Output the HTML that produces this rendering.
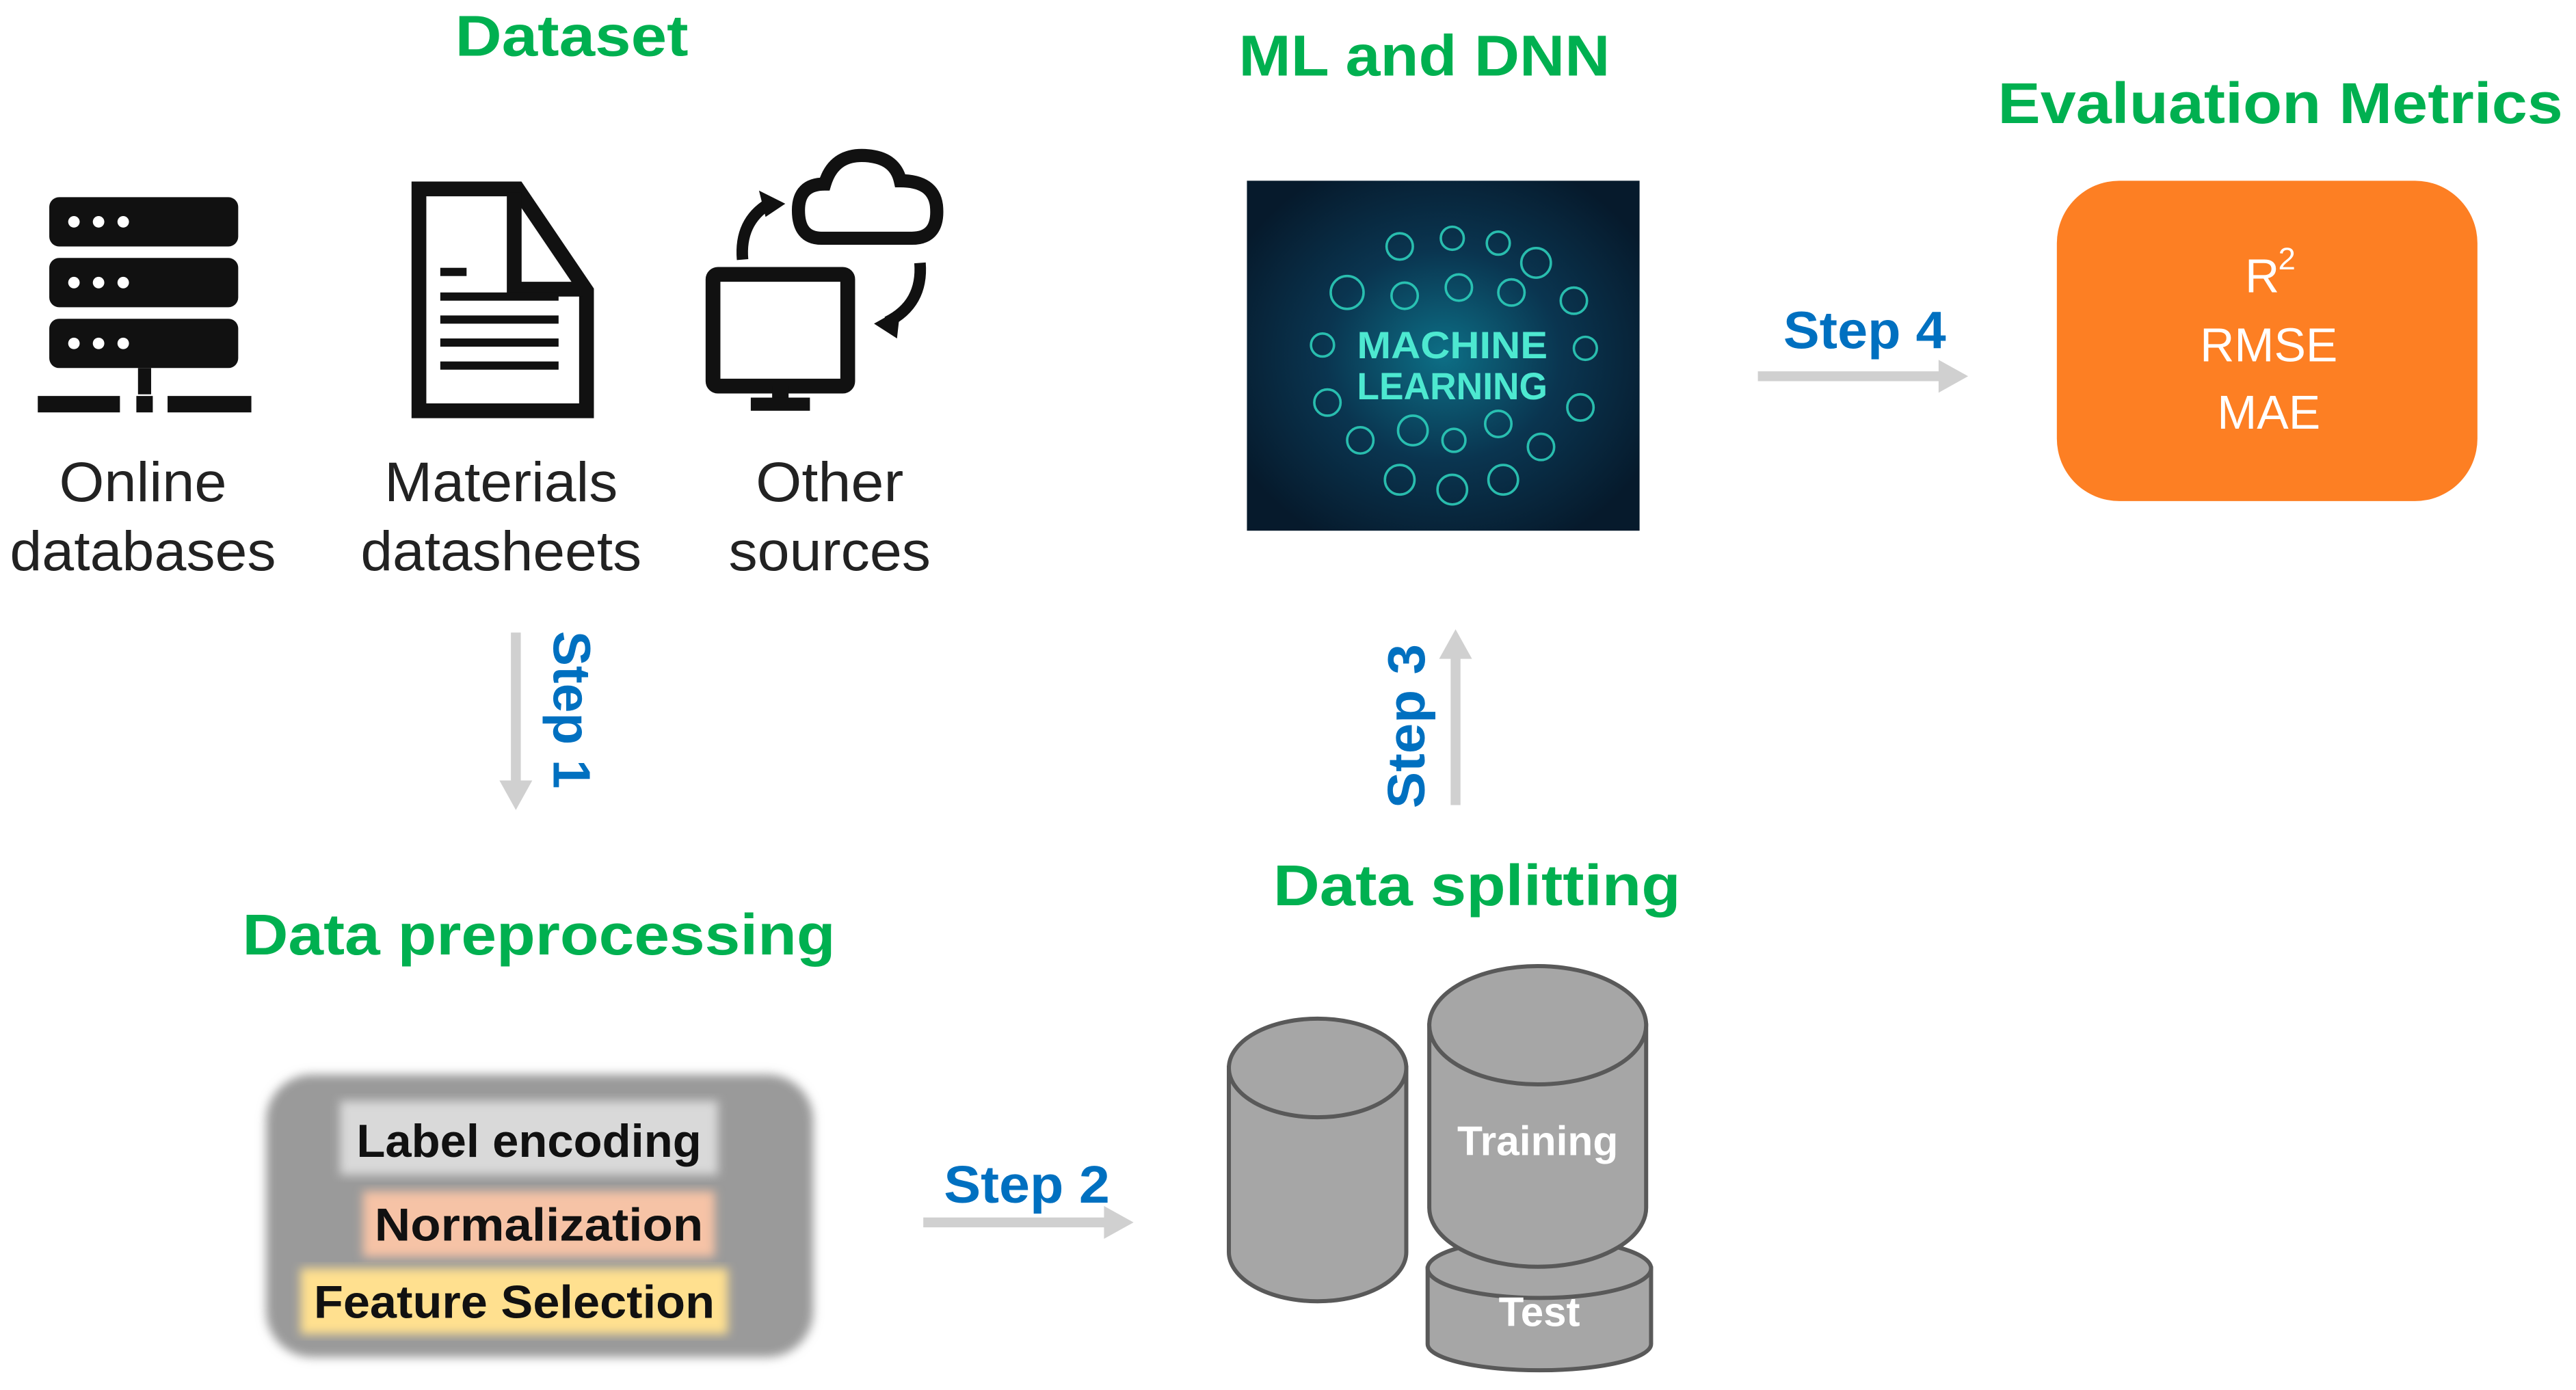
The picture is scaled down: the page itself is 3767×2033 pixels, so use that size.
<!DOCTYPE html>
<html><head><meta charset="utf-8"><style>
html,body{margin:0;padding:0;background:#fff}
svg{display:block}
</style></head><body>
<svg width="3767" height="2033" viewBox="0 0 1568 846" preserveAspectRatio="none" xmlns="http://www.w3.org/2000/svg">
<defs>
<radialGradient id="mlg" cx="50%" cy="50%" r="60%">
<stop offset="0" stop-color="#0d6f86"/><stop offset="0.5" stop-color="#0a3550"/><stop offset="1" stop-color="#061a2c"/>
</radialGradient>
<filter id="bl" x="-10%" y="-10%" width="120%" height="120%"><feGaussianBlur stdDeviation="3"/></filter>
</defs>
<rect width="1568" height="846" fill="#fff"/>
<g font-family="Liberation Sans, Arial, sans-serif" font-weight="bold" fill="#00b050" text-anchor="middle" font-size="35" lengthAdjust="spacingAndGlyphs">
<text x="348" y="34" textLength="142" lengthAdjust="spacingAndGlyphs">Dataset</text>
<text x="867" y="46" textLength="226" lengthAdjust="spacingAndGlyphs">ML and DNN</text>
<text x="1388" y="75" textLength="344" lengthAdjust="spacingAndGlyphs">Evaluation Metrics</text>
<text x="899" y="551" textLength="248" lengthAdjust="spacingAndGlyphs">Data splitting</text>
<text x="328" y="581" textLength="361" lengthAdjust="spacingAndGlyphs">Data preprocessing</text>
</g>
<!-- server icon -->
<g fill="#111">
<rect x="30" y="120" width="115" height="30" rx="6"/>
<rect x="30" y="157" width="115" height="30" rx="6"/>
<rect x="30" y="194" width="115" height="30" rx="6"/>
<rect x="84" y="224" width="8" height="16"/>
<rect x="23" y="241" width="50" height="10"/>
<rect x="83" y="241" width="10" height="10"/>
<rect x="102" y="241" width="51" height="10"/>
</g>
<g fill="#fff">
<circle cx="45" cy="135" r="3.5"/><circle cx="60" cy="135" r="3.5"/><circle cx="75" cy="135" r="3.5"/>
<circle cx="45" cy="172" r="3.5"/><circle cx="60" cy="172" r="3.5"/><circle cx="75" cy="172" r="3.5"/>
<circle cx="45" cy="209" r="3.5"/><circle cx="60" cy="209" r="3.5"/><circle cx="75" cy="209" r="3.5"/>
</g>
<!-- doc icon -->
<path d="M255,115 L315,115 L357,177 L357,250 L255,250 Z" fill="none" stroke="#111" stroke-width="9"/>
<path d="M313,117 L313,176 L355,176" fill="none" stroke="#111" stroke-width="9"/>
<g fill="#111">
<rect x="268" y="163" width="16" height="5"/>
<rect x="268" y="178" width="72" height="5"/>
<rect x="268" y="192" width="72" height="5"/>
<rect x="268" y="206" width="72" height="5"/>
<rect x="268" y="220" width="72" height="5"/>
</g>
<!-- other sources icon -->
<rect x="434" y="167" width="82" height="68" rx="3" fill="none" stroke="#111" stroke-width="9"/>
<rect x="470" y="235" width="10" height="10" fill="#111"/>
<rect x="457" y="242" width="36" height="8" fill="#111"/>
<path d="M500,145 Q486,145 486,128 Q486,112 502,112 Q508,92 530,95 Q545,97 548,110 Q568,110 570,125 Q572,145 555,145 Z" fill="none" stroke="#111" stroke-width="8"/>
<path d="M452,158 Q450,135 468,124" fill="none" stroke="#111" stroke-width="7"/>
<path d="M462,116 L478,124 L466,132 Z" fill="#111"/>
<path d="M560,160 Q562,185 540,196" fill="none" stroke="#111" stroke-width="7"/>
<path d="M548,188 L532,197 L546,206 Z" fill="#111"/>
<g font-family="Liberation Sans, Arial, sans-serif" font-size="34" fill="#222" text-anchor="middle">
<text x="87" y="305" textLength="102" lengthAdjust="spacingAndGlyphs">Online</text><text x="87" y="347" textLength="162" lengthAdjust="spacingAndGlyphs">databases</text>
<text x="305" y="305" textLength="142" lengthAdjust="spacingAndGlyphs">Materials</text><text x="305" y="347" textLength="171" lengthAdjust="spacingAndGlyphs">datasheets</text>
<text x="505" y="305" textLength="90" lengthAdjust="spacingAndGlyphs">Other</text><text x="505" y="347" textLength="123" lengthAdjust="spacingAndGlyphs">sources</text>
</g>
<!-- ML image -->
<rect x="759" y="110" width="239" height="213" fill="url(#mlg)"/>
<g fill="none" stroke="#2fd6c0" stroke-width="1.5" opacity="0.85">
<circle cx="852" cy="150" r="8"/><circle cx="884" cy="145" r="7"/><circle cx="912" cy="148" r="7"/><circle cx="935" cy="160" r="9"/>
<circle cx="820" cy="178" r="10"/><circle cx="855" cy="180" r="8"/><circle cx="888" cy="175" r="8"/><circle cx="920" cy="178" r="8"/><circle cx="958" cy="183" r="8"/>
<circle cx="805" cy="210" r="7"/><circle cx="965" cy="212" r="7"/><circle cx="808" cy="245" r="8"/><circle cx="962" cy="248" r="8"/>
<circle cx="828" cy="268" r="8"/><circle cx="860" cy="262" r="9"/><circle cx="912" cy="258" r="8"/><circle cx="938" cy="272" r="8"/>
<circle cx="852" cy="292" r="9"/><circle cx="884" cy="298" r="9"/><circle cx="915" cy="292" r="9"/><circle cx="885" cy="268" r="7"/>
</g>
<g font-family="Liberation Sans, Arial, sans-serif" font-size="23" font-weight="bold" fill="#4de8d0" text-anchor="middle">
<text x="884" y="218" textLength="116" lengthAdjust="spacingAndGlyphs">MACHINE</text><text x="884" y="243" textLength="116" lengthAdjust="spacingAndGlyphs">LEARNING</text>
</g>
<!-- Step 4 -->
<text x="1135" y="212" font-family="Liberation Sans, Arial, sans-serif" font-weight="bold" font-size="32" fill="#0070c0" text-anchor="middle" textLength="99" lengthAdjust="spacingAndGlyphs">Step 4</text>
<rect x="1070" y="226" width="112" height="6" fill="#d0d0d0"/>
<path d="M1180,219 L1198,229 L1180,239 Z" fill="#d0d0d0"/>
<!-- orange box -->
<rect x="1252" y="110" width="256" height="195" rx="38" fill="#fd7f23"/>
<g font-family="Liberation Sans, Arial, sans-serif" font-size="29" fill="#fff" text-anchor="middle">
<text x="1377" y="178">R</text><text x="1392" y="164" font-size="19">2</text>
<text x="1381" y="220">RMSE</text>
<text x="1381" y="261">MAE</text>
</g>
<!-- Step 1 -->
<rect x="311" y="385" width="6" height="92" fill="#d0d0d0"/>
<path d="M304,475 L314,493 L324,475 Z" fill="#d0d0d0"/>
<text transform="translate(337,432) rotate(90)" font-family="Liberation Sans, Arial, sans-serif" font-weight="bold" font-size="32" fill="#0070c0" text-anchor="middle" textLength="96" lengthAdjust="spacingAndGlyphs">Step 1</text>
<!-- Step 3 -->
<rect x="883" y="400" width="6" height="90" fill="#d0d0d0"/>
<path d="M876,401 L886,383 L896,401 Z" fill="#d0d0d0"/>
<text transform="translate(867,442) rotate(-90)" font-family="Liberation Sans, Arial, sans-serif" font-weight="bold" font-size="32" fill="#0070c0" text-anchor="middle" textLength="100" lengthAdjust="spacingAndGlyphs">Step 3</text>
<!-- preprocessing box -->
<rect x="162" y="654" width="333" height="172" rx="28" fill="#9a9a9a" filter="url(#bl)"/>
<rect x="207" y="670" width="230" height="45" fill="#d9d9d9" filter="url(#bl)"/>
<rect x="221" y="725" width="214" height="40" fill="#f6c3a6" filter="url(#bl)"/>
<rect x="183" y="772" width="260" height="40" fill="#ffe08f" filter="url(#bl)"/>
<g font-family="Liberation Sans, Arial, sans-serif" font-weight="bold" font-size="28" fill="#111" text-anchor="middle">
<text x="322" y="704" textLength="210" lengthAdjust="spacingAndGlyphs">Label encoding</text>
<text x="328" y="755" textLength="200" lengthAdjust="spacingAndGlyphs">Normalization</text>
<text x="313" y="802" textLength="244" lengthAdjust="spacingAndGlyphs">Feature Selection</text>
</g>
<!-- Step 2 -->
<text x="625" y="732" font-family="Liberation Sans, Arial, sans-serif" font-weight="bold" font-size="32" fill="#0070c0" text-anchor="middle" textLength="101" lengthAdjust="spacingAndGlyphs">Step 2</text>
<rect x="562" y="741" width="112" height="6" fill="#d0d0d0"/>
<path d="M672,734 L690,744 L672,754 Z" fill="#d0d0d0"/>
<!-- cylinders -->
<g fill="#a6a6a6" stroke="#595959" stroke-width="2.5">
<path d="M748,650 L748,762 A54,30 0 0 0 856,762 L856,650 Z"/>
<ellipse cx="802" cy="650" rx="54" ry="30"/>
<path d="M869,772 L869,818 A68,16 0 0 0 1005,818 L1005,772 Z"/>
<ellipse cx="937" cy="772" rx="68" ry="18"/>
<path d="M870,624 L870,735 A66,36 0 0 0 1002,735 L1002,624 Z"/>
<ellipse cx="936" cy="624" rx="66" ry="36"/>
</g>
<g font-family="Liberation Sans, Arial, sans-serif" font-weight="bold" font-size="25" fill="#fff" text-anchor="middle">
<text x="936" y="703" textLength="98" lengthAdjust="spacingAndGlyphs">Training</text>
<text x="937" y="807">Test</text>
</g>
</svg>
</body></html>
